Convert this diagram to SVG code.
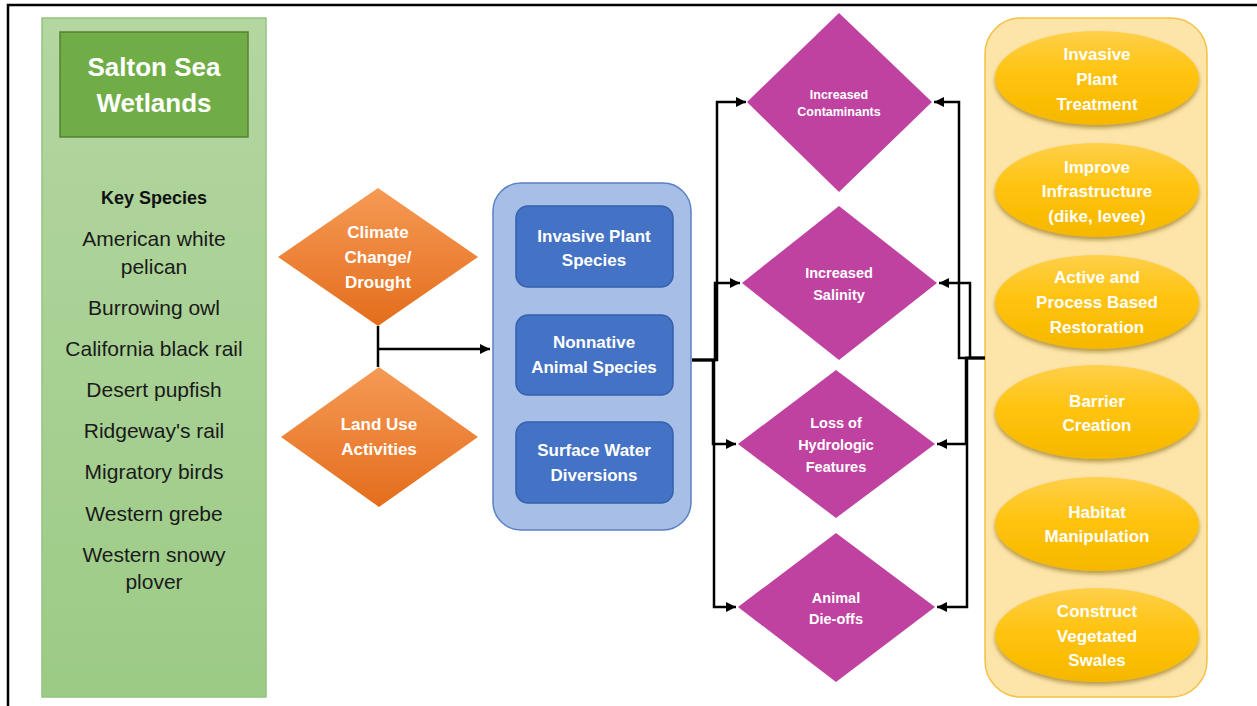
<svg xmlns="http://www.w3.org/2000/svg" width="1257" height="706" viewBox="0 0 1257 706">
<defs>
<style>
.t{font-family:"Liberation Sans",Arial,sans-serif;text-anchor:middle}
.w{fill:#ffffff;font-weight:bold}
.sp{fill:#1a1a1a;font-size:21px}
.or{font-size:17px}
.bl{font-size:17px}
.mg{font-size:14.5px}
.yl{font-size:17px}
.dia-o{fill:url(#gOr)}
.dia-m{fill:#bf42a1}
.box-b{fill:#4472c4;stroke:#3560ad;stroke-width:1.5}
.ell{fill:url(#gYl);filter:url(#sh)}
.con{fill:none;stroke:#000;stroke-width:2.5}
</style>
<linearGradient id="gGr" x1="0" y1="0" x2="0" y2="1"><stop offset="0" stop-color="#b4d6a1"/><stop offset="1" stop-color="#9ccb86"/></linearGradient>
<linearGradient id="gOr" x1="0" y1="0" x2="0" y2="1"><stop offset="0" stop-color="#f59a55"/><stop offset="1" stop-color="#e46d1c"/></linearGradient>
<linearGradient id="gYl" x1="0" y1="0" x2="0" y2="1"><stop offset="0" stop-color="#ffd04a"/><stop offset="0.5" stop-color="#ffc20a"/><stop offset="1" stop-color="#f5b800"/></linearGradient>
<filter id="sh" x="-10%" y="-10%" width="120%" height="130%"><feGaussianBlur in="SourceAlpha" stdDeviation="2"/><feOffset dx="0" dy="3" result="b"/><feFlood flood-color="#7a5a00" flood-opacity="0.55"/><feComposite in2="b" operator="in"/><feMerge><feMergeNode/><feMergeNode in="SourceGraphic"/></feMerge></filter>
<marker id="arr" viewBox="0 0 10 10" refX="10" refY="5" markerWidth="11" markerHeight="10" markerUnits="userSpaceOnUse" orient="auto"><path d="M0,0 L10,5 L0,10 z" fill="#000"/></marker>
</defs>
<rect width="1257" height="706" fill="#ffffff"/>
<path d="M8,706 V5 H1257" fill="none" stroke="#000" stroke-width="2.5"/>

<g id="wetlands-panel">
<rect x="42" y="18" width="224" height="679" fill="url(#gGr)" stroke="#94c47f" stroke-width="1.5"/>
<rect x="60" y="32" width="188" height="105" fill="#70ad47" stroke="#548235" stroke-width="1.5"/>
<text class="t w" font-size="26" x="154" y="76">Salton Sea</text>
<text class="t w" font-size="26" x="154" y="112">Wetlands</text>
<text class="t" font-size="18" font-weight="bold" fill="#111" x="154" y="204">Key Species</text>
<text class="t sp" x="154" y="246">American white</text>
<text class="t sp" x="154" y="274">pelican</text>
<text class="t sp" x="154" y="315">Burrowing owl</text>
<text class="t sp" x="154" y="356">California black rail</text>
<text class="t sp" x="154" y="397">Desert pupfish</text>
<text class="t sp" x="154" y="438">Ridgeway's rail</text>
<text class="t sp" x="154" y="479">Migratory birds</text>
<text class="t sp" x="154" y="521">Western grebe</text>
<text class="t sp" x="154" y="562">Western snowy</text>
<text class="t sp" x="154" y="589">plover</text>
</g>

<g id="climate">
<polygon class="dia-o" points="378,188 478,257 378,326 278,257"/>
<text class="t w or" x="378" y="238">Climate</text>
<text class="t w or" x="378" y="263">Change/</text>
<text class="t w or" x="378" y="288">Drought</text>
</g>
<g id="landuse">
<polygon class="dia-o" points="379,367 478,437 379,507 281,437"/>
<text class="t w or" x="379" y="430">Land Use</text>
<text class="t w or" x="379" y="455">Activities</text>
</g>

<g id="stressors">
<rect x="493" y="183" width="198" height="347" rx="28" fill="#a7bfe6" stroke="#5b80c6" stroke-width="1.5"/>
<rect class="box-b" x="516" y="206" width="157" height="81" rx="12"/>
<text class="t w bl" x="594" y="242">Invasive Plant</text>
<text class="t w bl" x="594" y="266">Species</text>
<rect class="box-b" x="516" y="315" width="157" height="80" rx="12"/>
<text class="t w bl" x="594" y="348">Nonnative</text>
<text class="t w bl" x="594" y="373">Animal Species</text>
<rect class="box-b" x="516" y="422" width="157" height="81" rx="12"/>
<text class="t w bl" x="594" y="456">Surface Water</text>
<text class="t w bl" x="594" y="481">Diversions</text>
</g>

<g id="contaminants">
<polygon class="dia-m" points="839,13 932,102 839,192 747,102"/>
<text class="t w" font-size="12.5" x="839" y="99">Increased</text>
<text class="t w" font-size="12.5" x="839" y="116">Contaminants</text>
</g>
<g id="salinity">
<polygon class="dia-m" points="839,206 937,283 839,360 742,283"/>
<text class="t w mg" x="839" y="278">Increased</text>
<text class="t w mg" x="839" y="300">Salinity</text>
</g>
<g id="hydrologic">
<polygon class="dia-m" points="836,370 935,444 836,518 738,444"/>
<text class="t w mg" x="836" y="428">Loss of</text>
<text class="t w mg" x="836" y="450">Hydrologic</text>
<text class="t w mg" x="836" y="472">Features</text>
</g>
<g id="dieoffs">
<polygon class="dia-m" points="836,533 935,607 836,682 738,607"/>
<text class="t w mg" x="836" y="603">Animal</text>
<text class="t w mg" x="836" y="624">Die-offs</text>
</g>

<g id="actions">
<rect x="985" y="18" width="222" height="679" rx="36" fill="#fde5aa" stroke="#f5c143" stroke-width="1.5"/>
<ellipse class="ell" cx="1097" cy="78" rx="102" ry="47"/>
<text class="t w yl" x="1097" y="60">Invasive</text>
<text class="t w yl" x="1097" y="85">Plant</text>
<text class="t w yl" x="1097" y="110">Treatment</text>
<ellipse class="ell" cx="1097" cy="190" rx="102" ry="47"/>
<text class="t w yl" x="1097" y="173">Improve</text>
<text class="t w yl" x="1097" y="197">Infrastructure</text>
<text class="t w yl" x="1097" y="222">(dike, levee)</text>
<ellipse class="ell" cx="1097" cy="302" rx="102" ry="47"/>
<text class="t w yl" x="1097" y="283">Active and</text>
<text class="t w yl" x="1097" y="308">Process Based</text>
<text class="t w yl" x="1097" y="333">Restoration</text>
<ellipse class="ell" cx="1097" cy="412" rx="102" ry="47"/>
<text class="t w yl" x="1097" y="407">Barrier</text>
<text class="t w yl" x="1097" y="431">Creation</text>
<ellipse class="ell" cx="1097" cy="524" rx="102" ry="47"/>
<text class="t w yl" x="1097" y="518">Habitat</text>
<text class="t w yl" x="1097" y="542">Manipulation</text>
<ellipse class="ell" cx="1097" cy="635" rx="102" ry="47"/>
<text class="t w yl" x="1097" y="617">Construct</text>
<text class="t w yl" x="1097" y="642">Vegetated</text>
<text class="t w yl" x="1097" y="666">Swales</text>
</g>

<g id="connectors">
<path class="con" d="M378,326 V367"/>
<path class="con" d="M378,349 H490" marker-end="url(#arr)"/>
<path class="con" d="M692,360 H717 V102 H746" stroke-width="2" marker-end="url(#arr)"/>
<path class="con" d="M692,360 H715 V283 H740" marker-end="url(#arr)"/>
<path class="con" d="M692,360 H713 V444 H736" marker-end="url(#arr)"/>
<path class="con" d="M692,360 H714 V607 H736" stroke-width="2" marker-end="url(#arr)"/>
<path class="con" d="M985,358 H959 V102 H934" stroke-width="2" marker-end="url(#arr)"/>
<path class="con" d="M985,358 H970 V283 H939" stroke-width="2" marker-end="url(#arr)"/>
<path class="con" d="M985,358 H966 V444 H937" marker-end="url(#arr)"/>
<path class="con" d="M985,358 H967 V607 H937" stroke-width="2" marker-end="url(#arr)"/>
</g>
</svg>
